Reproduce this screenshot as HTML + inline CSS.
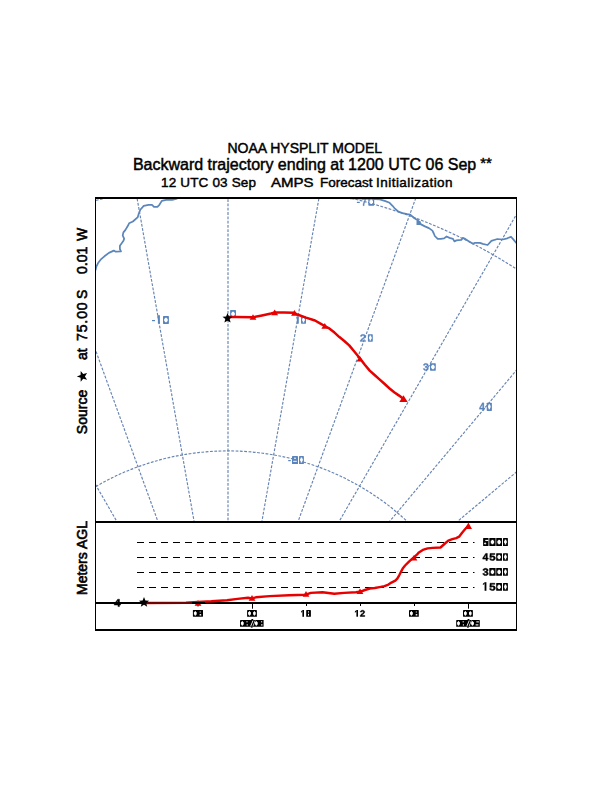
<!DOCTYPE html>
<html><head><meta charset="utf-8"><style>
html,body{margin:0;padding:0;background:#fff;width:612px;height:792px;overflow:hidden}
svg{display:block}
</style></head><body>
<svg width="612" height="792" viewBox="0 0 612 792">
<defs><clipPath id="mc"><rect x="96" y="199" width="420" height="322"/></clipPath></defs>
<rect width="612" height="792" fill="#fff"/>
<g font-family="Liberation Sans, sans-serif" fill="#000" stroke="#000" stroke-width="0.45">
<text x="304.75" y="152.6" font-size="14" text-anchor="middle">NOAA HYSPLIT MODEL</text>
<text x="132.9" y="170" font-size="16">Backward trajectory ending at 1200 UTC 06 Sep</text>
<text x="480.3" y="168.3" font-size="15" textLength="11.6">**</text>
<g font-size="13.5">
<text x="161" y="187" textLength="95">12 UTC 03 Sep</text>
<text x="271" y="187" textLength="42.6" lengthAdjust="spacingAndGlyphs">AMPS</text>
<text x="320" y="187">Forecast</text>
<text x="376" y="187" textLength="76.6">Initialization</text>
</g>
</g>
<g clip-path="url(#mc)">
<g stroke="#6784b2" stroke-width="1.15" stroke-dasharray="2.8 1.5" fill="none">
<line x1="227.8" y1="713.8" x2="-289.9" y2="96.7"/>
<line x1="227.9" y1="713.8" x2="-174.9" y2="16.2"/>
<line x1="227.9" y1="713.8" x2="-47.6" y2="-43.2"/>
<line x1="228.0" y1="713.7" x2="88.1" y2="-79.5"/>
<line x1="228.0" y1="713.7" x2="228.0" y2="-91.8"/>
<line x1="228.0" y1="713.7" x2="367.9" y2="-79.5"/>
<line x1="228.1" y1="713.8" x2="503.6" y2="-43.2"/>
<line x1="228.1" y1="713.8" x2="630.9" y2="16.2"/>
<line x1="228.2" y1="713.8" x2="745.9" y2="96.7"/>
<line x1="228.2" y1="713.8" x2="845.3" y2="196.1"/>
<circle cx="228.0" cy="714.0" r="530.25"/>
<circle cx="228.0" cy="714.0" r="263.10"/>
</g>
<g stroke="#5b86bb" stroke-width="1.75" fill="none" stroke-linejoin="round">
<polyline points="95.5,270.3 96.4,266.5 98.3,262.7 100.6,259.7 104.4,256.3 108.9,252.9 113.8,250.6 115.7,251.7 121.0,251.4 119.9,249.1 119.9,245.7 123.3,241.1 124.2,238.8 122.7,235.4 123.4,232.4 125.3,230.1 127.6,226.3 129.1,223.3 132.9,221.5 137.8,217.1 138.8,213.6 140.3,209.7 143.7,205.8 148.6,204.8 152.0,204.8 154.0,206.8 157.4,206.8 159.4,204.8 161.8,200.9 166.2,199.9 172.1,199.9 176.0,198.9 178.5,197.8"/>
<polyline points="350.0,198.3 365.0,198.6 379.8,199.4 384.7,200.9 389.6,202.8 392.5,205.8 395.0,208.7 398.4,211.6 402.4,213.1 407.3,214.1 410.2,214.6 414.1,218.0 418.0,220.5 421.0,224.4 424.9,226.4 428.9,228.1 432.4,230.6 433.8,233.5 434.8,236.0 437.7,238.9 440.7,238.9 444.1,238.4 446.6,236.5 449.5,237.9 453.0,238.9 454.4,241.4 456.4,240.4 461.3,239.9 462.7,237.9 465.2,238.9 469.1,241.4 473.0,243.8 475.0,242.8 479.9,242.8 482.8,243.8 487.6,245.0 491.4,240.9 497.4,239.0 502.7,239.5 507.3,238.3 511.0,236.7 513.3,239.4 516.5,243.2"/>
</g>
<rect x="416.5" y="221" width="4" height="4" fill="#5b86bb"/>
<rect x="152.00" y="320.00" width="3.00" height="1.20" rx="0" fill="#5a84bc"/>
<rect x="157.90" y="315.20" width="2.00" height="8.50" fill="#5a84bc"/><path d="M157.00,316.80 L157.90,315.20 L157.90,317.00 L157.00,318.00 Z" fill="#5a84bc"/>
<rect x="163.00" y="316.10" width="5.90" height="7.80" rx="0.6" fill="#5a84bc"/>
<rect x="164.20" y="318.70" width="3.50" height="2.60" fill="#fff"/><rect x="165.00" y="317.80" width="1.90" height="4.40" fill="#fff"/>
<rect x="230.10" y="310.00" width="5.90" height="7.80" rx="0.6" fill="#5a84bc"/>
<rect x="231.30" y="312.70" width="3.50" height="2.60" fill="#fff"/><rect x="232.10" y="311.80" width="1.90" height="4.40" fill="#fff"/>
<rect x="296.80" y="316.20" width="2.00" height="7.50" fill="#5a84bc"/><path d="M296.00,317.80 L296.80,316.20 L296.80,318.00 L296.00,319.00 Z" fill="#5a84bc"/>
<rect x="301.00" y="316.20" width="5.00" height="7.50" rx="0.6" fill="#5a84bc"/>
<rect x="302.75" y="317.50" width="1.5" height="5.00" fill="#fff"/><rect x="302.20" y="318.70" width="2.6" height="2.2" fill="#fff"/>
<path fill="#5a84bc" stroke="#5a84bc" stroke-width="56.00" stroke-linejoin="round" d="M71 0V195Q126 316 227.5 431.0Q329 546 483 671Q631 791 690.5 869.0Q750 947 750 1022Q750 1206 565 1206Q475 1206 427.5 1157.5Q380 1109 366 1012L83 1028Q107 1224 229.5 1327.0Q352 1430 563 1430Q791 1430 913.0 1326.0Q1035 1222 1035 1034Q1035 935 996.0 855.0Q957 775 896.0 707.5Q835 640 760.5 581.0Q686 522 616.0 466.0Q546 410 488.5 353.0Q431 296 403 231H1057V0Z" transform="matrix(0.005680,0,0,-0.005035,359.75,341.55)"/>
<rect x="367.90" y="334.20" width="4.90" height="7.50" rx="0.6" fill="#5a84bc"/>
<rect x="369.60" y="335.50" width="1.5" height="5.00" fill="#fff"/><rect x="369.05" y="336.70" width="2.6" height="2.2" fill="#fff"/>
<path fill="#5a84bc" stroke="#5a84bc" stroke-width="59.05" stroke-linejoin="round" d="M1065 391Q1065 193 935.0 85.0Q805 -23 565 -23Q338 -23 204.0 81.5Q70 186 47 383L333 408Q360 205 564 205Q665 205 721.0 255.0Q777 305 777 408Q777 502 709.0 552.0Q641 602 507 602H409V829H501Q622 829 683.0 878.5Q744 928 744 1020Q744 1107 695.5 1156.5Q647 1206 554 1206Q467 1206 413.5 1158.0Q360 1110 352 1022L71 1042Q93 1224 222.0 1327.0Q351 1430 559 1430Q780 1430 904.5 1330.5Q1029 1231 1029 1055Q1029 923 951.5 838.0Q874 753 728 725V721Q890 702 977.5 614.5Q1065 527 1065 391Z" transform="matrix(0.005206,0,0,-0.004955,422.91,370.44)"/>
<rect x="430.00" y="363.20" width="5.80" height="7.50" rx="0.6" fill="#5a84bc"/>
<rect x="431.15" y="365.70" width="3.50" height="2.60" fill="#fff"/><rect x="431.95" y="364.80" width="1.90" height="4.40" fill="#fff"/>
<path fill="#5a84bc" stroke="#5a84bc" stroke-width="56.49" stroke-linejoin="round" d="M940 287V0H672V287H31V498L626 1409H940V496H1128V287ZM672 957Q672 1011 675.5 1074.0Q679 1137 681 1155Q655 1099 587 993L260 496H672Z" transform="matrix(0.005014,0,0,-0.005607,479.19,410.75)"/>
<rect x="486.70" y="402.70" width="5.20" height="8.20" rx="0.6" fill="#5a84bc"/>
<rect x="488.55" y="404.30" width="1.5" height="5.00" fill="#fff"/><rect x="488.00" y="405.50" width="2.6" height="2.2" fill="#fff"/>
<rect x="288.20" y="460.00" width="2.60" height="1.20" rx="0" fill="#5a84bc"/>
<rect x="292.00" y="456.10" width="6.00" height="7.90" rx="0.6" fill="#5a84bc"/>
<rect x="294.30" y="457.60" width="1.40" height="1.40" fill="#fff"/>
<rect x="293.20" y="460.80" width="3.60" height="1.00" fill="#fff"/>
<rect x="299.00" y="456.10" width="4.90" height="7.90" rx="0.6" fill="#5a84bc"/>
<rect x="300.70" y="457.50" width="1.5" height="5.00" fill="#fff"/><rect x="300.15" y="458.70" width="2.6" height="2.2" fill="#fff"/>
<rect x="356.90" y="201.80" width="2.90" height="1.20" rx="0" fill="#5a84bc"/>
<path fill="#5a84bc" stroke="#5a84bc" stroke-width="63.96" stroke-linejoin="round" d="M1049 1186Q954 1036 869.5 895.0Q785 754 722.0 611.5Q659 469 622.5 318.5Q586 168 586 0H293Q293 176 339.0 340.5Q385 505 472.0 675.5Q559 846 788 1178H88V1409H1049Z" transform="matrix(0.004058,0,0,-0.005323,361.79,205.65)"/>
<rect x="368.30" y="197.90" width="5.90" height="7.80" rx="0.6" fill="#5a84bc"/>
<rect x="369.50" y="200.50" width="3.50" height="2.60" fill="#fff"/><rect x="370.30" y="199.60" width="1.90" height="4.40" fill="#fff"/>
<polyline points="227.5,317.0 236.0,317.0 253.0,317.3 262.0,315.5 271.0,313.5 275.0,312.5 284.0,312.5 293.5,312.7 298.0,314.8 306.0,317.6 315.0,320.5 320.0,323.3 324.7,326.0 329.6,328.7 334.5,332.6 339.4,337.1 344.3,341.0 349.2,345.4 354.1,351.3 360.0,358.5 364.8,364.7 369.7,370.6 374.6,375.0 379.5,379.4 384.4,383.8 389.3,388.2 394.2,392.2 399.1,395.6 403.0,398.5" stroke="#e60000" stroke-width="2.5" fill="none" stroke-linejoin="round"/>
<g fill="#e60000"><path d="M253.0,314.2 L256.4,319.8 L249.6,319.8 Z"/><path d="M274.7,309.6 L278.1,315.2 L271.3,315.2 Z"/><path d="M294.5,310.1 L297.9,315.7 L291.1,315.7 Z"/><path d="M324.8,323.1 L328.2,328.7 L321.4,328.7 Z"/><path d="M359.9,355.9 L363.3,361.5 L356.5,361.5 Z"/><path d="M403.5,395.2 L407.7,401.9 L399.3,401.9 Z"/></g>
<polygon fill="#000" points="227.5,313.1 228.9,316.5 232.5,316.7 229.7,319.1 230.6,322.6 227.5,320.7 224.4,322.6 225.3,319.1 222.5,316.7 226.1,316.5"/>
</g>
<g fill="#000">
<rect x="95" y="197" width="422" height="2"/>
<rect x="95" y="197" width="1" height="434"/>
<rect x="516" y="197" width="1" height="434"/>
<rect x="95" y="521" width="422" height="2"/>
<rect x="95" y="602" width="422" height="2"/>
<rect x="95" y="629" width="422" height="2"/>
</g>
<g font-family="Liberation Sans, sans-serif" font-size="14" fill="#000" stroke="#000" stroke-width="0.6" transform="translate(87.3,0) rotate(-90)">
<text x="-434.2" textLength="44.5">Source</text>
<text x="-360">at</text>
<text x="-341" textLength="38.6">75.00</text>
<text x="-299">S</text>
<text x="-274">0.01</text>
<text x="-241">W</text>
<text x="-595">Meters AGL</text>
</g>
<polygon fill="#000" points="76.8,376.4 80.6,375.0 80.7,371.0 83.2,374.1 87.1,373.0 84.9,376.4 87.1,379.8 83.2,378.7 80.7,381.8 80.6,377.8"/>
<g stroke="#000" stroke-width="1" stroke-dasharray="7 5" fill="none">
<line x1="137" y1="542.5" x2="474.5" y2="542.5"/>
<line x1="137" y1="557.5" x2="474.5" y2="557.5"/>
<line x1="137" y1="572.5" x2="474.5" y2="572.5"/>
<line x1="137" y1="587.5" x2="474.5" y2="587.5"/>
</g>
<g fill="#000">
<rect x="197.5" y="604" width="1" height="2.5"/>
<rect x="252" y="604" width="1" height="4.7"/>
<rect x="306" y="604" width="1" height="2"/>
<rect x="360" y="604" width="1" height="2"/>
<rect x="414" y="604" width="1" height="2"/>
<rect x="468" y="604" width="1" height="4.7"/>
</g>
<rect x="192.90" y="609.90" width="10.10" height="6.80" rx="0.4" fill="#000"/>
<rect x="193.90" y="612.10" width="2.80" height="2.60" fill="#fff"/><rect x="194.70" y="611.20" width="1.20" height="4.40" fill="#fff"/>
<rect x="199.70" y="611.50" width="1.00" height="1.00" fill="#fff"/>
<rect x="199.60" y="614.10" width="1.60" height="1.40" fill="#fff"/>
<rect x="247.10" y="610.10" width="9.80" height="6.70" rx="0.4" fill="#000"/>
<rect x="248.10" y="612.10" width="2.80" height="2.60" fill="#fff"/><rect x="248.90" y="611.20" width="1.20" height="4.40" fill="#fff"/>
<rect x="253.10" y="612.10" width="2.60" height="2.60" fill="#fff"/><rect x="253.90" y="611.20" width="1.00" height="4.40" fill="#fff"/>
<rect x="302.40" y="610.00" width="1.60" height="6.80" fill="#000"/><path d="M301.10,611.60 L302.40,610.00 L302.40,611.80 L301.10,612.80 Z" fill="#000"/>
<rect x="306.20" y="610.00" width="4.70" height="6.80" rx="0.4" fill="#000"/>
<rect x="308.00" y="611.30" width="1.00" height="1.20" fill="#fff"/>
<rect x="308.00" y="613.80" width="1.00" height="1.80" fill="#fff"/>
<rect x="356.40" y="610.00" width="1.60" height="6.70" fill="#000"/><path d="M354.90,611.60 L356.40,610.00 L356.40,611.80 L354.90,612.80 Z" fill="#000"/>
<path fill="#000" stroke="#000" stroke-width="112.37" stroke-linejoin="round" d="M71 0V195Q126 316 227.5 431.0Q329 546 483 671Q631 791 690.5 869.0Q750 947 750 1022Q750 1206 565 1206Q475 1206 427.5 1157.5Q380 1109 366 1012L83 1028Q107 1224 229.5 1327.0Q352 1430 563 1430Q791 1430 913.0 1326.0Q1035 1222 1035 1034Q1035 935 996.0 855.0Q957 775 896.0 707.5Q835 640 760.5 581.0Q686 522 616.0 466.0Q546 410 488.5 353.0Q431 296 403 231H1057V0Z" transform="matrix(0.004564,0,0,-0.004336,359.93,616.45)"/>
<rect x="409.00" y="610.00" width="9.80" height="6.80" rx="0.4" fill="#000"/>
<rect x="410.00" y="612.10" width="2.80" height="2.60" fill="#fff"/><rect x="410.80" y="611.20" width="1.20" height="4.40" fill="#fff"/>
<rect x="415.80" y="611.50" width="1.00" height="1.00" fill="#fff"/>
<rect x="415.70" y="614.10" width="1.60" height="1.40" fill="#fff"/>
<rect x="463.00" y="610.10" width="9.90" height="6.60" rx="0.4" fill="#000"/>
<rect x="464.00" y="612.10" width="2.80" height="2.60" fill="#fff"/><rect x="464.80" y="611.20" width="1.20" height="4.40" fill="#fff"/>
<rect x="469.00" y="612.10" width="2.60" height="2.60" fill="#fff"/><rect x="469.80" y="611.20" width="1.00" height="4.40" fill="#fff"/>
<rect x="240.00" y="620.00" width="23.60" height="6.80" rx="0.4" fill="#000"/>
<rect x="240.90" y="622.10" width="2.80" height="2.60" fill="#fff"/><rect x="241.70" y="621.20" width="1.20" height="4.40" fill="#fff"/>
<rect x="246.45" y="621.25" width="1.10" height="1.10" fill="#fff"/>
<rect x="246.65" y="624.30" width="1.10" height="1.20" fill="#fff"/>
<path d="M250.2,626.3 L252.6,620.5 L253.5,620.5 L251.1,626.3 Z" fill="#fff"/>
<path d="M252.5,626.3 L254.9,620.5 L255.6,620.5 L253.2,626.3 Z" fill="#fff"/>
<rect x="251.40" y="619.00" width="1.80" height="1.20" rx="0" fill="#000"/>
<rect x="250.80" y="626.60" width="1.80" height="1.00" rx="0" fill="#000"/>
<rect x="254.90" y="622.10" width="2.80" height="2.60" fill="#fff"/><rect x="255.70" y="621.20" width="1.20" height="4.40" fill="#fff"/>
<rect x="261.05" y="621.25" width="1.10" height="1.10" fill="#fff"/>
<rect x="261.10" y="624.30" width="1.40" height="1.20" fill="#fff"/>
<rect x="456.20" y="620.00" width="23.60" height="6.80" rx="0.4" fill="#000"/>
<rect x="457.10" y="622.10" width="2.80" height="2.60" fill="#fff"/><rect x="457.90" y="621.20" width="1.20" height="4.40" fill="#fff"/>
<rect x="462.65" y="621.25" width="1.10" height="1.10" fill="#fff"/>
<rect x="462.85" y="624.30" width="1.10" height="1.20" fill="#fff"/>
<path d="M466.4,626.3 L468.8,620.5 L469.7,620.5 L467.3,626.3 Z" fill="#fff"/>
<path d="M468.7,626.3 L471.1,620.5 L471.8,620.5 L469.4,626.3 Z" fill="#fff"/>
<rect x="467.60" y="619.00" width="1.80" height="1.20" rx="0" fill="#000"/>
<rect x="467.00" y="626.60" width="1.80" height="1.00" rx="0" fill="#000"/>
<rect x="471.10" y="622.10" width="2.80" height="2.60" fill="#fff"/><rect x="471.90" y="621.20" width="1.20" height="4.40" fill="#fff"/>
<rect x="476.30" y="621.40" width="2.60" height="1.00" fill="#fff"/>
<rect x="475.60" y="624.35" width="2.80" height="1.10" fill="#fff"/>
<rect x="483.10" y="538.10" width="5.40" height="7.90" rx="0.5" fill="#000"/>
<rect x="484.00" y="543.05" width="2.20" height="0.80" fill="#fff"/><rect x="484.80" y="542.15" width="0.60" height="2.60" fill="#fff"/>
<rect x="485.30" y="539.85" width="3.00" height="1.20" fill="#fff"/>
<rect x="489.30" y="538.10" width="6.30" height="7.90" rx="0.5" fill="#000"/>
<rect x="490.75" y="540.75" width="3.40" height="2.60" fill="#fff"/><rect x="491.55" y="539.85" width="1.80" height="4.40" fill="#fff"/>
<rect x="496.20" y="538.10" width="5.80" height="7.90" rx="0.5" fill="#000"/>
<rect x="497.40" y="540.75" width="3.40" height="2.60" fill="#fff"/><rect x="498.20" y="539.85" width="1.80" height="4.40" fill="#fff"/>
<rect x="503.00" y="538.10" width="4.90" height="7.90" rx="0.5" fill="#000"/>
<rect x="504.70" y="539.55" width="1.5" height="5.00" fill="#fff"/><rect x="504.15" y="540.75" width="2.6" height="2.2" fill="#fff"/>
<path fill="#000" stroke="#000" stroke-width="99.48" stroke-linejoin="round" d="M940 287V0H672V287H31V498L626 1409H940V496H1128V287ZM672 957Q672 1011 675.5 1074.0Q679 1137 681 1155Q655 1099 587 993L260 496H672Z" transform="matrix(0.005014,0,0,-0.005039,482.59,560.55)"/>
<path fill="#000" stroke="#000" stroke-width="93.81" stroke-linejoin="round" d="M1082 469Q1082 245 942.5 112.5Q803 -20 560 -20Q348 -20 220.5 75.5Q93 171 63 352L344 375Q366 285 422.0 244.0Q478 203 563 203Q668 203 730.5 270.0Q793 337 793 463Q793 574 734.0 640.5Q675 707 569 707Q452 707 378 616H104L153 1409H1000V1200H408L385 844Q487 934 640 934Q841 934 961.5 809.0Q1082 684 1082 469Z" transform="matrix(0.005692,0,0,-0.004969,489.19,560.45)"/>
<rect x="496.20" y="553.20" width="5.80" height="7.60" rx="0.5" fill="#000"/>
<rect x="497.40" y="555.70" width="3.40" height="2.60" fill="#fff"/><rect x="498.20" y="554.80" width="1.80" height="4.40" fill="#fff"/>
<rect x="503.00" y="553.20" width="4.90" height="7.60" rx="0.5" fill="#000"/>
<rect x="504.70" y="554.50" width="1.5" height="5.00" fill="#fff"/><rect x="504.15" y="555.70" width="2.6" height="2.2" fill="#fff"/>
<path fill="#000" stroke="#000" stroke-width="96.54" stroke-linejoin="round" d="M1065 391Q1065 193 935.0 85.0Q805 -23 565 -23Q338 -23 204.0 81.5Q70 186 47 383L333 408Q360 205 564 205Q665 205 721.0 255.0Q777 305 777 408Q777 502 709.0 552.0Q641 602 507 602H409V829H501Q622 829 683.0 878.5Q744 928 744 1020Q744 1107 695.5 1156.5Q647 1206 554 1206Q467 1206 413.5 1158.0Q360 1110 352 1022L71 1042Q93 1224 222.0 1327.0Q351 1430 559 1430Q780 1430 904.5 1330.5Q1029 1231 1029 1055Q1029 923 951.5 838.0Q874 753 728 725V721Q890 702 977.5 614.5Q1065 527 1065 391Z" transform="matrix(0.005403,0,0,-0.004955,482.50,575.44)"/>
<rect x="489.30" y="568.10" width="6.30" height="7.70" rx="0.5" fill="#000"/>
<rect x="490.75" y="570.65" width="3.40" height="2.60" fill="#fff"/><rect x="491.55" y="569.75" width="1.80" height="4.40" fill="#fff"/>
<rect x="496.20" y="568.10" width="5.80" height="7.70" rx="0.5" fill="#000"/>
<rect x="497.40" y="570.65" width="3.40" height="2.60" fill="#fff"/><rect x="498.20" y="569.75" width="1.80" height="4.40" fill="#fff"/>
<rect x="503.00" y="568.10" width="4.90" height="7.70" rx="0.5" fill="#000"/>
<rect x="504.70" y="569.45" width="1.5" height="5.00" fill="#fff"/><rect x="504.15" y="570.65" width="2.6" height="2.2" fill="#fff"/>
<rect x="484.60" y="582.20" width="1.80" height="8.60" fill="#000"/><path d="M482.90,583.80 L484.60,582.20 L484.60,584.00 L482.90,585.00 Z" fill="#000"/>
<path fill="#000" stroke="#000" stroke-width="92.59" stroke-linejoin="round" d="M1082 469Q1082 245 942.5 112.5Q803 -20 560 -20Q348 -20 220.5 75.5Q93 171 63 352L344 375Q366 285 422.0 244.0Q478 203 563 203Q668 203 730.5 270.0Q793 337 793 463Q793 574 734.0 640.5Q675 707 569 707Q452 707 378 616H104L153 1409H1000V1200H408L385 844Q487 934 640 934Q841 934 961.5 809.0Q1082 684 1082 469Z" transform="matrix(0.005692,0,0,-0.005108,489.19,590.45)"/>
<rect x="496.20" y="583.00" width="5.80" height="7.80" rx="0.5" fill="#000"/>
<rect x="497.40" y="585.60" width="3.40" height="2.60" fill="#fff"/><rect x="498.20" y="584.70" width="1.80" height="4.40" fill="#fff"/>
<rect x="503.00" y="583.00" width="4.90" height="7.80" rx="0.5" fill="#000"/>
<rect x="504.70" y="584.40" width="1.5" height="5.00" fill="#fff"/><rect x="504.15" y="585.60" width="2.6" height="2.2" fill="#fff"/>
<path fill="#000" stroke="#000" stroke-width="72.16" stroke-linejoin="round" d="M940 287V0H672V287H31V498L626 1409H940V496H1128V287ZM672 957Q672 1011 675.5 1074.0Q679 1137 681 1155Q655 1099 587 993L260 496H672Z" transform="matrix(0.005834,0,0,-0.005252,114.02,606.60)"/>
<polyline points="144.0,603.0 186.0,602.8 198.0,601.9 211.4,601.3 227.0,600.2 237.5,598.9 248.0,597.8 252.0,598.4 255.9,597.3 269.6,596.1 289.2,595.3 305.9,594.7 310.8,592.9 322.5,592.2 334.3,593.7 344.1,592.9 355.9,592.2 360.0,591.8 364.9,590.0 369.8,588.5 374.7,588.0 379.6,587.1 384.5,586.1 388.4,584.6 391.4,582.6 395.3,580.7 397.3,578.7 399.2,575.3 401.2,571.4 403.1,567.9 405.1,565.5 409.0,561.6 412.9,558.1 416.9,554.7 418.9,552.4 422.8,549.9 427.7,548.4 432.6,547.9 440.5,547.5 444.4,544.0 448.3,540.6 452.3,539.1 456.2,538.1 459.1,536.7 462.1,532.7 465.0,529.3 468.0,526.0" stroke="#e60000" stroke-width="2.4" fill="none" stroke-linejoin="round"/>
<g fill="#e60000"><path d="M198.0,600.1 L201.4,605.7 L194.6,605.7 Z"/><path d="M252.0,595.1 L255.4,600.7 L248.6,600.7 Z"/><path d="M306.0,591.1 L309.4,596.7 L302.6,596.7 Z"/><path d="M360.0,588.4 L363.4,594.0 L356.6,594.0 Z"/><path d="M414.0,554.9 L417.4,560.5 L410.6,560.5 Z"/><path d="M468.4,522.5 L472.0,529.1 L464.8,529.1 Z"/></g>
<rect x="95" y="602" width="110" height="2" fill="#000"/>
<rect x="146" y="602" width="46" height="2" fill="#6e0404"/>
<polygon fill="#000" points="144.0,597.0 145.4,600.5 149.1,600.7 146.2,603.1 147.2,606.8 144.0,604.7 140.8,606.8 141.8,603.1 138.9,600.7 142.6,600.5"/>
</svg>
</body></html>
